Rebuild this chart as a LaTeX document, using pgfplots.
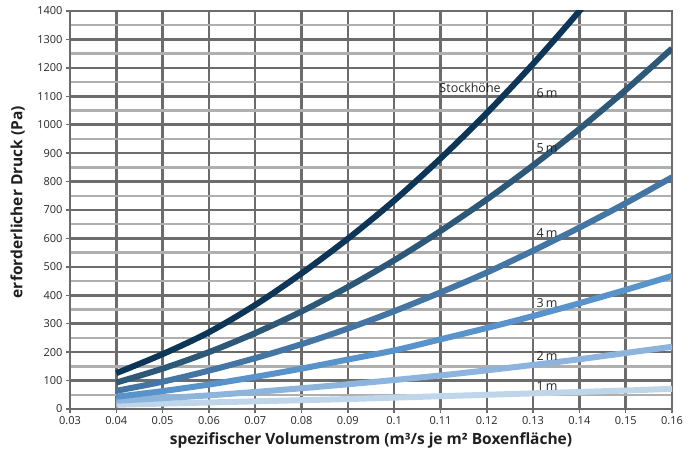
\documentclass[border=0pt]{standalone}
\usepackage{fontspec}
\setmainfont{Open Sans}
\usepackage{pgfplots}
\usepackage{pgfplotstable}
\pgfplotsset{compat=1.18}

\definecolor{gridmajor}{HTML}{6C6C6C}
\definecolor{gridminor}{HTML}{AFAFAF}
\definecolor{hsix}{HTML}{0D3557}
\definecolor{hfive}{HTML}{2D5878}
\definecolor{hfour}{HTML}{4375A5}
\definecolor{hthree}{HTML}{5893CC}
\definecolor{htwo}{HTML}{8CB4DD}
\definecolor{hone}{HTML}{BED5EA}

% Druck in Pa je Stockhoehe (1 m ... 6 m)
\pgfplotstableread{
q     h1   h2   h3   h4   h5    h6
0.04  15   29   43   64   93    126
0.05  19   38   63   96   142   193
0.06  23   48   86   135  200   270
0.07  27   60   113  179  267   366
0.08  31   73   142  228  343   477
0.09  35   87   174  283  429   599
0.10  40   102  206  344  523   733
0.11  45   118  245  410  626   881
0.12  50   136  285  480  737   1041
0.13  55   155  327  557  857   1214
0.14  60   175  372  638  985   1400
0.15  65   197  419  724  1122  1599
0.16  71   219  468  815  1268  1809
}\druck

\begin{document}
\begin{tikzpicture}
\begin{axis}[
    width=602pt, height=398pt, scale only axis,
    xmin=0.03, xmax=0.16,
    ymin=0, ymax=1400,
    xtick={0.03,0.04,0.05,0.06,0.07,0.08,0.09,0.10,0.11,0.12,0.13,0.14,0.15,0.16},
    xticklabels={0.03,0.04,0.05,0.06,0.07,0.08,0.09,0.1,0.11,0.12,0.13,0.14,0.15,0.16},
    ytick={0,100,...,1400},
    minor y tick num=1,
    xmajorgrids=true, ymajorgrids=true, yminorgrids=true,
    major grid style={color=gridmajor, line width=2.5pt},
    minor grid style={color=gridminor, line width=2.5pt},
    axis line style={gridmajor, line width=2.5pt},
    tick align=outside,
    xtick pos=left, ytick pos=left,
    major tick length=4pt, minor tick length=0pt,
    tick style={gridmajor, line width=1.5pt},
    tick label style={font=\fontsize{11}{13}\selectfont, text=black!85},
    /pgf/number format/assume math mode=true,
    /pgf/number format/1000 sep={},
    xlabel={spezifischer Volumenstrom (m³/s je m² Boxenfläche)},
    ylabel={erforderlicher Druck (Pa)},
    xlabel style={font=\bfseries\fontsize{15.5}{18}\selectfont, text=black!88,
        at={(axis description cs:0.5,-0.078)}, anchor=center},
    ylabel style={font=\bfseries\fontsize{15.5}{18}\selectfont, text=black!88,
        at={(axis description cs:-0.087,0.52)}, anchor=center},
    every axis plot/.append style={line width=6pt, line join=round, line cap=butt, smooth},
]
\addplot[hone]   table[x=q, y=h1] {\druck};
\addplot[htwo]   table[x=q, y=h2] {\druck};
\addplot[hthree] table[x=q, y=h3] {\druck};
\addplot[hfour]  table[x=q, y=h4] {\druck};
\addplot[hfive]  table[x=q, y=h5] {\druck};
\addplot[hsix]   table[x=q, y=h6] {\druck};

\begin{scope}[every node/.style={font=\fontsize{12.5}{14}\selectfont, text=black!85}]
\node at (axis cs:0.1164,1129) {Stockhöhe};
\node at (axis cs:0.1330,1112) {6\,m};
\node at (axis cs:0.1330,918) {5\,m};
\node at (axis cs:0.1330,620) {4\,m};
\node at (axis cs:0.1330,374) {3\,m};
\node at (axis cs:0.1330,188) {2\,m};
\node at (axis cs:0.1330,82) {1\,m};
\end{scope}
\end{axis}
\path (current axis.south west) ++(-70pt,-46pt);
\path (current axis.north east) ++(27pt,11pt);
\end{tikzpicture}
\end{document}
